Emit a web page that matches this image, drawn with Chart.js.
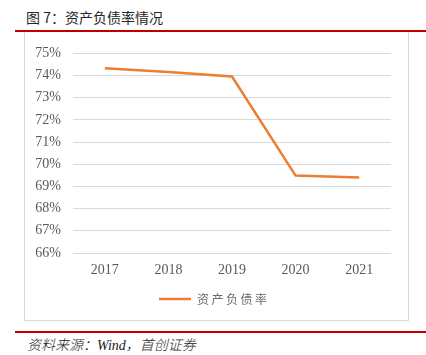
<!DOCTYPE html>
<html><head><meta charset="utf-8">
<script src="https://cdn.jsdelivr.net/npm/chart.js@4/dist/chart.umd.min.js"></script>
<style>
html,body{margin:0;padding:0;background:#fff;width:426px;height:355px;overflow:hidden;position:relative;}
#title{position:absolute;left:26px;top:7px;font:14px "Noto Sans CJK SC","Noto Sans",sans-serif;color:#262626;white-space:nowrap;}
.red{position:absolute;left:15px;width:411px;height:2px;background:#C00000;}
#box{position:absolute;left:24px;top:32px;width:383px;height:288px;border:1px solid #d9d9d9;border-top:none;}
#wrap{position:absolute;left:25px;top:33px;width:383px;height:288px;}
#src{position:absolute;left:27px;top:334px;font:italic 300 14px "Liberation Serif","Noto Sans CJK SC",serif;color:#1a1a1a;white-space:nowrap;}
</style></head><body>
<div id="title">图 7：资产负债率情况</div>
<div class="red" style="top:30px"></div>
<div id="box"></div>
<div id="wrap"><canvas id="c" width="383" height="288"></canvas></div>
<div class="red" style="top:331px"></div>
<div id="src">资料来源：Wind，首创证券</div>
<script>
const years = ['2017','2018','2019','2020','2021'];
const debtRatio = [74.33, 74.16, 73.96, 69.49, 69.40];
const seriesName = '资产负债率';
const yMin = 66, yMax = 75;

const chart = new Chart(document.getElementById('c'), {
  type: 'line',
  data: {
    labels: years,
    datasets: [{
      label: seriesName,
      data: debtRatio,
      borderColor: '#ED7D31',
      backgroundColor: '#ED7D31',
      borderWidth: 2.5,
      pointRadius: 0,
      tension: 0,
      fill: false
    }]
  },
  options: {
    responsive: false,
    animation: false,
    devicePixelRatio: 1,
    layout: {padding: {top: 16, right: 17, left: 0, bottom: 6}},
    plugins: {
      tooltip: {enabled: false},
      legend: {
        position: 'bottom',
        labels: {
          usePointStyle: true,
          pointStyle: 'line',
          pointStyleWidth: 32,
          boxHeight: 12,
          padding: 10,
          color: '#6b6b6b',
          font: {family: '"Noto Sans CJK SC", sans-serif', size: 12}
        }
      }
    },
    scales: {
      x: {
        offset: true,
        grid: {display: false, drawTicks: false},
        border: {display: false},
        ticks: {color: '#595959', padding: 9, font: {family: '"Liberation Serif", serif', size: 14}},
        afterFit: s => { s.height = 30; }
      },
      y: {
        min: yMin, max: yMax,
        grid: {color: '#d9d9d9', lineWidth: 1, drawTicks: false},
        border: {display: false},
        ticks: {stepSize: 1, padding: 12, color: '#595959', font: {family: '"Liberation Serif", serif', size: 14},
          callback: v => v + '%'},
        afterFit: s => { s.width = 48; }
      }
    }
  }
});
// spaced legend characters, as in the reference
const origDraw = chart.legend.draw.bind(chart.legend);
chart.legend.draw = function(area) {
  const ctx = chart.ctx;
  ctx.save();
  ctx.letterSpacing = '2.5px';
  origDraw(area);
  ctx.restore();
};
chart.draw();
</script>
</body></html>
